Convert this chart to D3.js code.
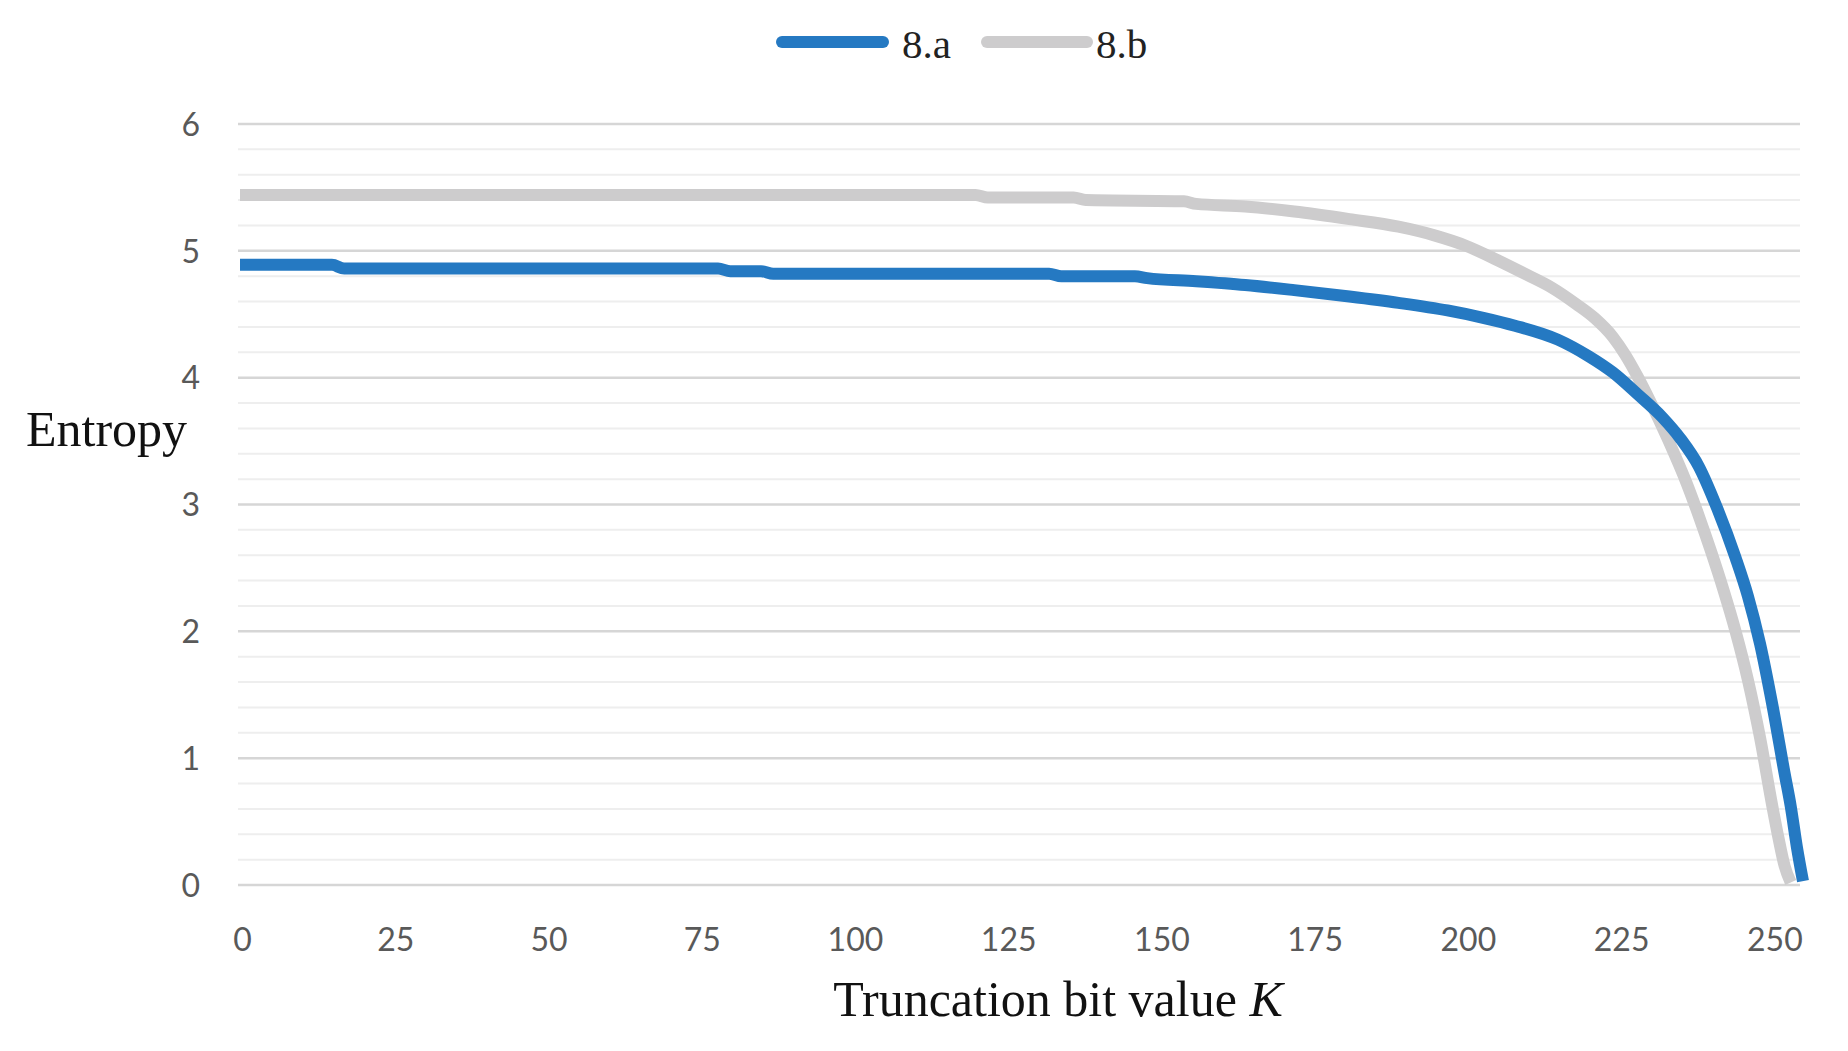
<!DOCTYPE html>
<html>
<head>
<meta charset="utf-8">
<script src="https://cdn.jsdelivr.net/npm/d3@7"></script>
<style>
  html, body { margin: 0; padding: 0; background: #ffffff; }
  svg { display: block; }
</style>
</head>
<body>
<svg id="chart" width="1848" height="1051"></svg>
<script>
// ---- data ----
const seriesNames = ["8.a", "8.b"];
const xTickValues = [0, 25, 50, 75, 100, 125, 150, 175, 200, 225, 250];
const yTickValues = [0, 1, 2, 3, 4, 5, 6];

// series 8.a : truncation bit value K -> entropy
const kA = [0, 15, 17, 78, 80, 85, 87, 132, 134, 146, 148, 156, 164, 172, 181, 189, 197, 203, 208, 215, 220, 224, 228, 232, 235, 238, 241, 244, 246, 248, 250, 252, 253, 254, 255];
const eA = [4.89, 4.89, 4.86, 4.86, 4.84, 4.84, 4.82, 4.82, 4.80, 4.80, 4.785, 4.76, 4.73, 4.69, 4.64, 4.59, 4.53, 4.47, 4.41, 4.30, 4.17, 4.04, 3.87, 3.69, 3.52, 3.30, 2.97, 2.58, 2.28, 1.90, 1.42, 0.88, 0.62, 0.30, 0.03];

// series 8.b
const kB = [0, 120, 122, 136, 138, 154, 156, 164, 172, 181, 189, 195, 200, 205, 210, 214, 218, 221, 224, 226, 228, 230, 233, 236, 238, 240, 242, 244, 246, 248, 250, 251, 252, 253];
const eB = [5.44, 5.44, 5.42, 5.42, 5.40, 5.39, 5.37, 5.35, 5.31, 5.25, 5.19, 5.12, 5.04, 4.93, 4.81, 4.71, 4.58, 4.47, 4.32, 4.18, 4.01, 3.82, 3.51, 3.17, 2.91, 2.63, 2.33, 2.00, 1.62, 1.16, 0.62, 0.37, 0.15, 0.02];

const seriesColors = ["#2579c2", "#cdcccd"];

// ---- layout ----
const svg = d3.select("#chart");
const x = d3.scaleLinear().domain([0, 255]).range([240, 1803]);
const y = d3.scaleLinear().domain([0, 6]).range([885, 124]);
const gridLeft = 238, gridRight = 1800;

// minor gridlines (every 0.2)
const minorTicks = d3.range(0, 30).map(i => i * 0.2).filter(v => Math.abs(v - Math.round(v)) > 1e-6);
svg.append("g").selectAll("line").data(minorTicks).join("line")
  .attr("x1", gridLeft).attr("x2", gridRight)
  .attr("y1", d => y(d)).attr("y2", d => y(d))
  .attr("stroke", "#eeeeee").attr("stroke-width", 2);

// major gridlines
svg.append("g").selectAll("line").data(yTickValues).join("line")
  .attr("x1", gridLeft).attr("x2", gridRight)
  .attr("y1", d => y(d)).attr("y2", d => y(d))
  .attr("stroke", "#d6d6d6").attr("stroke-width", 2.5);

// y axis labels
const yAxis = d3.axisLeft(y).tickValues(yTickValues).tickSize(0).tickPadding(0).tickFormat(d3.format("d"));
const gy = svg.append("g").attr("transform", "translate(200,1)").call(yAxis);
gy.select(".domain").remove();
gy.selectAll("text").attr("font-family", "Lato, 'Open Sans', sans-serif").attr("font-size", 32).attr("fill", "#595959");

// x axis labels
const xAxis = d3.axisBottom(x).tickValues(xTickValues).tickSize(0).tickPadding(0).tickFormat(d3.format("d"));
const gx = svg.append("g").attr("transform", "translate(2,928)").call(xAxis);
gx.select(".domain").remove();
gx.selectAll("text").attr("font-family", "Lato, 'Open Sans', sans-serif").attr("font-size", 32).attr("fill", "#595959");

// lines
const line = d3.line().x(d => x(d[0])).y(d => y(d[1])).curve(d3.curveMonotoneX);
const dataB = kB.map((k, i) => [k, eB[i]]);
const dataA = kA.map((k, i) => [k, eA[i]]);
svg.append("path").datum(dataB).attr("d", line)
  .attr("fill", "none").attr("stroke", seriesColors[1]).attr("stroke-width", 12).attr("stroke-linejoin", "round");
svg.append("path").datum(dataA).attr("d", line)
  .attr("fill", "none").attr("stroke", seriesColors[0]).attr("stroke-width", 12).attr("stroke-linejoin", "round");

// axis titles
svg.append("text").attr("x", 26).attr("y", 446)
  .attr("font-family", "'Liberation Serif', 'Times New Roman', serif").attr("font-size", 50).attr("fill", "#111")
  .text("Entropy");
const xt = svg.append("text").attr("x", 1058).attr("y", 1016).attr("text-anchor", "middle")
  .attr("font-family", "'Liberation Serif', 'Times New Roman', serif").attr("font-size", 50).attr("fill", "#111");
xt.append("tspan").text("Truncation bit value ");
xt.append("tspan").attr("font-style", "italic").text("K");

// legend
const legendItems = [
  { name: seriesNames[0], color: seriesColors[0], x1: 782, x2: 883, tx: 902 },
  { name: seriesNames[1], color: seriesColors[1], x1: 987, x2: 1087, tx: 1096 }
];
const lg = svg.append("g");
legendItems.forEach(it => {
  lg.append("line").attr("x1", it.x1).attr("x2", it.x2).attr("y1", 42).attr("y2", 42)
    .attr("stroke", it.color).attr("stroke-width", 12).attr("stroke-linecap", "round");
  lg.append("text").attr("x", it.tx).attr("y", 58)
    .attr("font-family", "'Liberation Serif', 'Times New Roman', serif").attr("font-size", 41).attr("fill", "#222")
    .text(it.name);
});
</script>
</body>
</html>
